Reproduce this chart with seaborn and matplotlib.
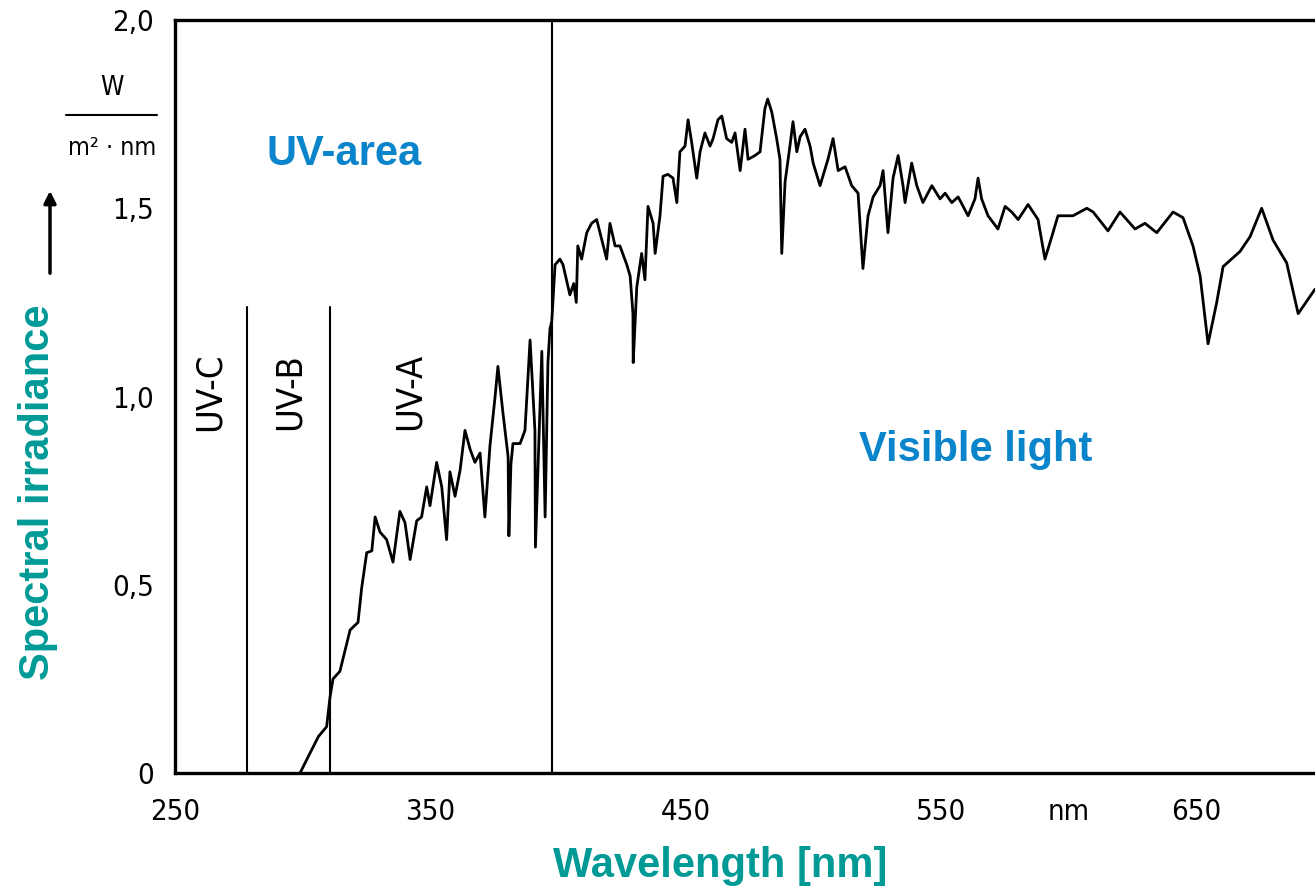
import pandas as pd
import matplotlib
matplotlib.use('Agg')
import matplotlib.pyplot as plt
import seaborn as sns

# spectrum, UV part (wavelength nm, irradiance W/(m2 nm))
uv_wavelength = [299.0, 302.9, 306.2, 309.4, 310.7, 311.9, 314.6, 318.6, 321.7, 323.1,
                 325.1, 327.1, 328.4, 330.3, 332.9, 335.4, 338.1, 340.1, 342.1, 344.7,
                 346.6, 348.6, 349.9, 352.5, 354.5, 356.4, 357.7, 359.7, 361.7, 363.6,
                 365.6, 367.5, 369.5, 371.4, 373.4, 375.4, 376.5, 378.5, 380.5, 380.8,
                 381.6, 382.4, 385.2, 387.1, 389.1, 391.0, 391.2, 393.7, 395.0, 396.1,
                 396.9]
uv_irradiance = [0.0, 0.053, 0.097, 0.123, 0.20, 0.25, 0.27, 0.38, 0.40, 0.49,
                 0.585, 0.59, 0.68, 0.64, 0.62, 0.56, 0.695, 0.665, 0.567, 0.67,
                 0.68, 0.76, 0.71, 0.825, 0.76, 0.62, 0.80, 0.735, 0.805, 0.91,
                 0.86, 0.825, 0.85, 0.68, 0.87, 1.00, 1.08, 0.955, 0.84, 0.63,
                 0.82, 0.875, 0.875, 0.91, 1.15, 0.91, 0.60, 1.12, 0.68, 1.09,
                 1.18]

# visible part
vis_wavelength = [397.6, 398.9, 400.8, 402.0, 404.7, 406.2, 407.2, 407.8, 409.3, 411.3,
                  413.2, 415.2, 416.5, 419.1, 420.4, 422.4, 424.3, 427.0, 428.3, 429.4,
                  429.5, 430.9, 432.8, 434.1, 435.3, 437.3, 438.1, 440.0, 441.2, 443.1,
                  445.1, 446.6, 447.8, 449.8, 451.0, 452.4, 454.4, 455.7, 457.6, 459.6,
                  460.8, 462.7, 464.2, 466.1, 468.1, 469.4, 471.4, 473.3, 474.5, 477.2,
                  479.2, 481.1, 482.2, 483.8, 485.7, 487.0, 487.7, 489.0, 490.9, 492.1,
                  493.6, 494.9, 496.8, 498.8, 500.0, 502.7, 505.8, 507.8, 509.8, 512.5,
                  515.1, 517.6, 519.5, 521.5, 523.5, 526.2, 527.4, 529.3, 531.3, 533.3,
                  535.2, 536.0, 538.6, 540.6, 543.0, 546.5, 549.7, 551.7, 554.3, 556.8,
                  560.7, 563.4, 564.6, 566.0, 568.5, 572.4, 575.2, 577.8, 580.3, 584.2,
                  588.1, 590.8, 593.5, 595.9, 601.8, 607.2, 609.7, 615.5, 620.2, 626.1,
                  630.0, 634.6, 641.0, 644.9, 648.8, 651.6, 654.7, 658.1, 660.6, 667.2,
                  671.2, 675.7, 680.2, 685.5, 690.0, 696.6]
vis_irradiance = [1.20, 1.35, 1.365, 1.35, 1.27, 1.30, 1.25, 1.40, 1.365, 1.435,
                  1.46, 1.47, 1.435, 1.365, 1.46, 1.40, 1.40, 1.35, 1.32, 1.22,
                  1.09, 1.29, 1.38, 1.31, 1.505, 1.46, 1.38, 1.48, 1.585, 1.59,
                  1.58, 1.515, 1.65, 1.665, 1.735, 1.675, 1.58, 1.65, 1.70, 1.665,
                  1.685, 1.735, 1.745, 1.685, 1.675, 1.70, 1.60, 1.71, 1.63, 1.64,
                  1.65, 1.765, 1.79, 1.755, 1.685, 1.63, 1.38, 1.57, 1.665, 1.73,
                  1.65, 1.69, 1.71, 1.665, 1.62, 1.56, 1.63, 1.685, 1.60, 1.61,
                  1.56, 1.54, 1.34, 1.48, 1.53, 1.56, 1.60, 1.435, 1.58, 1.64,
                  1.56, 1.515, 1.62, 1.56, 1.515, 1.56, 1.525, 1.54, 1.515, 1.53,
                  1.48, 1.525, 1.58, 1.525, 1.48, 1.445, 1.505, 1.49, 1.47, 1.51,
                  1.47, 1.365, 1.425, 1.48, 1.48, 1.50, 1.49, 1.44, 1.49, 1.445,
                  1.46, 1.435, 1.49, 1.475, 1.40, 1.32, 1.14, 1.25, 1.345, 1.385,
                  1.425, 1.50, 1.415, 1.355, 1.22, 1.285]

# band boundaries as drawn in the scan
band_edges = [278.2, 310.7]
band_top = 1.237
visible_edge = 397.7
band_names = ['UV-C', 'UV-B', 'UV-A']
band_label_x = [263.7, 295.1, 342.1]
band_label_y = 1.013

x_ticks = [250, 350, 450, 550, 600, 650]
x_tick_labels = ['250', '350', '450', '550', 'nm', '650']
x_minor = [500]
y_ticks = [0, 0.5, 1.0, 1.5, 2.0]
y_tick_labels = ['0', '0,5', '1,0', '1,5', '2,0']
y_minor = [0.25, 0.75, 1.25, 1.75]

TEAL = '#009a96'
BLUE = '#0a84ca'

sns.set_theme(style='white')
plt.rcParams['font.family'] = ['DejaVu Sans']
plt.rcParams['font.stretch'] = 'condensed'
plt.rcParams['axes.edgecolor'] = 'black'
plt.rcParams['text.color'] = 'black'

df = pd.DataFrame({
    'wavelength': uv_wavelength + vis_wavelength,
    'irradiance': uv_irradiance + vis_irradiance,
})

fig = plt.figure(figsize=(13.15, 8.94), dpi=100)
ax = fig.add_axes([175 / 1315, 121 / 894, 1140 / 1315, 753 / 894])

sns.lineplot(data=df, x='wavelength', y='irradiance', sort=False, estimator=None,
             color='black', linewidth=2.0, ax=ax)

# band separators
for xe in band_edges:
    ax.plot([xe, xe], [0, band_top], color='black', linewidth=1.5)
ax.plot([visible_edge, visible_edge], [0, 2.0], color='black', linewidth=1.5)

for name, bx in zip(band_names, band_label_x):
    ax.text(bx, band_label_y, name, rotation=90, ha='center', va='center',
            fontsize=26, color='black')

ax.text(316.2, 1.644, 'UV-area', color=BLUE, fontsize=30, fontweight='bold',
        family='Liberation Sans', ha='center', va='center')
ax.text(563.8, 0.859, 'Visible light', color=BLUE, fontsize=30, fontweight='bold',
        family='Liberation Sans', ha='center', va='center')

ax.set_xlim(250, 696.6)
ax.set_ylim(0, 2.0)
ax.set_xticks(x_ticks)
ax.set_xticklabels(x_tick_labels)
ax.set_xticks(x_minor, minor=True)
ax.set_yticks(y_ticks)
ax.set_yticklabels(y_tick_labels)
ax.set_yticks(y_minor, minor=True)
ax.tick_params(axis='both', which='both', direction='in', width=1.5, colors='black',
               labelsize=21)
ax.tick_params(axis='both', which='major', length=12)
ax.tick_params(axis='both', which='minor', length=10)
ax.tick_params(axis='x', pad=18)
ax.tick_params(axis='y', pad=15)

for side in ['left', 'bottom', 'top']:
    ax.spines[side].set_linewidth(2.4)
ax.spines['right'].set_visible(False)

ax.set_xlabel('Wavelength [nm]', color=TEAL, fontsize=30, fontweight='bold',
              family='Liberation Sans')
ax.xaxis.set_label_coords(0.478, -0.097)
ax.set_ylabel('Spectral irradiance', color=TEAL, fontsize=30, fontweight='bold',
              family='Liberation Sans')
ax.yaxis.set_label_coords(-0.103, 0.373)

# unit label and arrow on the left
fig.text(112 / 1315, 806 / 894, 'W', fontsize=19, ha='center', va='center',
         color='black')
fig.add_artist(plt.Line2D([66 / 1315, 157 / 1315], [779 / 894, 779 / 894],
                          color='black', linewidth=1.5))
fig.text(112 / 1315, 746 / 894, 'm\u00b2 \u00b7 nm', fontsize=18, ha='center',
         va='center', color='black')
ax.annotate('', xy=(50, 894 - 188), xycoords='figure pixels',
            xytext=(50, 894 - 276), textcoords='figure pixels',
            arrowprops=dict(arrowstyle='-|>', color='black', lw=2.5,
                            mutation_scale=18))

fig.savefig('out.png', dpi=100)
